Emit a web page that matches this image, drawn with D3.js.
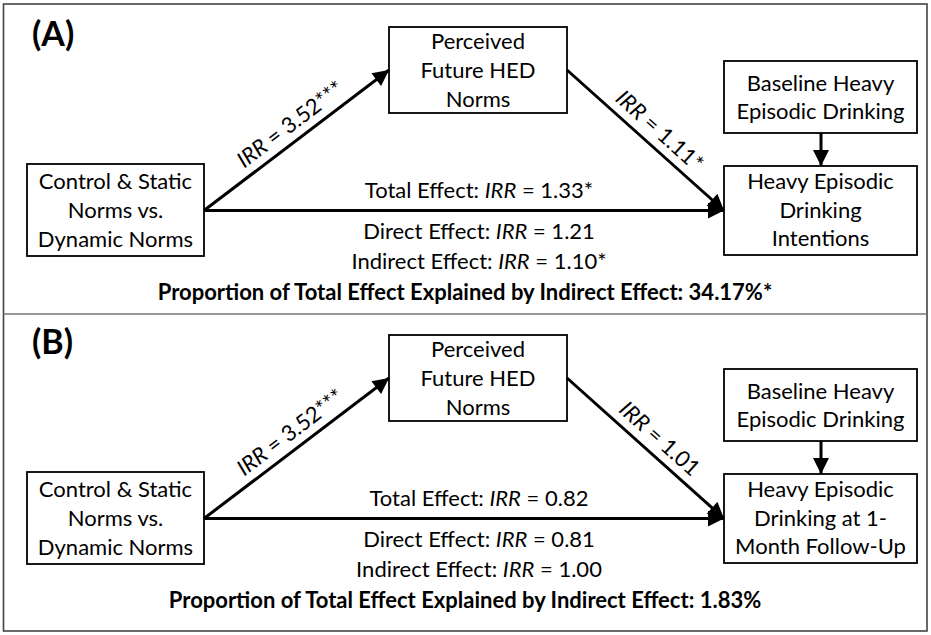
<!DOCTYPE html>
<html>
<head>
<meta charset="utf-8">
<script src="https://cdn.jsdelivr.net/npm/d3@7"></script>
<style>
  body { margin: 0; background: #fff; }
  svg text { font-family: "Lato", "Open Sans", sans-serif; fill: #000; }
</style>
</head>
<body>
<div id="chart"></div>
<script>
// panels
let panelNames = ["(A)", "(B)"];

// node labels (same in both panels except the outcome)
let predictorLines = ["Control & Static", "Norms vs.", "Dynamic Norms"];
let mediatorLines = ["Perceived", "Future HED", "Norms"];
let covariateLines = ["Baseline Heavy", "Episodic Drinking"];
let outcomeLines = [
  ["Heavy Episodic", "Drinking", "Intentions"],
  ["Heavy Episodic", "Drinking at 1-", "Month Follow-Up"]
];

// path estimates
let pathA = ["3.52***", "3.52***"];
let pathB = ["1.11*", "1.01"];
let totalIRR = ["1.33*", "0.82"];
let directIRR = ["1.21", "0.81"];
let indirectIRR = ["1.10*", "1.00"];
let proportion = ["34.17%*", "1.83%"];

let svgWidth = 931;
let svgHeight = 635;

let svg = d3.select("#chart")
  .append("svg")
  .attr("width", svgWidth)
  .attr("height", svgHeight);

// layout units are pixels inside one panel; y scale shifts per panel
let x = d3.scaleLinear().domain([0, 931]).range([0, 931]);
let panelTop = d3.scaleOrdinal().domain([0, 1]).range([0, 308]);

let defs = svg.append("defs");
defs.append("marker")
  .attr("id", "head")
  .attr("viewBox", "0 0 10 10")
  .attr("refX", 10)
  .attr("refY", 5)
  .attr("markerUnits", "userSpaceOnUse")
  .attr("markerWidth", 18)
  .attr("markerHeight", 16)
  .attr("orient", "auto")
  .append("path")
  .attr("d", "M0,0L10,5L0,10Z")
  .attr("fill", "#000");

// frame
svg.append("rect")
  .attr("x", 3.5).attr("y", 4)
  .attr("width", 923.5).attr("height", 627)
  .attr("fill", "none")
  .attr("stroke", "#444")
  .attr("stroke-width", 1.6);

svg.append("line")
  .attr("x1", 3.5).attr("x2", 927)
  .attr("y1", 314).attr("y2", 314)
  .attr("stroke", "#777")
  .attr("stroke-width", 1.6);

let boxes = {
  pred: {x0: 27, y0: 164, x1: 204, y1: 256},
  med: {x0: 389, y0: 27, x1: 567, y1: 113},
  cov: {x0: 724, y0: 61, x1: 917, y1: 133},
  out: {x0: 724, y0: 166, x1: 917, y1: 255}
};

function irrText(sel, prefix, value) {
  if (prefix) sel.append("tspan").text(prefix);
  sel.append("tspan").attr("font-style", "italic").text("IRR");
  sel.append("tspan").text(" = " + value);
}

panelNames.forEach((name, i) => {
  let y = d => panelTop(i) + d;
  let g = svg.append("g");

  g.append("text")
    .attr("x", x(32))
    .attr("y", y(46))
    .attr("font-size", "34px")
    .attr("font-weight", "bold")
    .text(name);

  let nodes = [
    {b: boxes.pred, lines: predictorLines, first: 189, step: 29},
    {b: boxes.med, lines: mediatorLines, first: 49, step: 29},
    {b: boxes.cov, lines: covariateLines, first: 91, step: 27.5},
    {b: boxes.out, lines: outcomeLines[i], first: 189, step: 28.5}
  ];

  nodes.forEach(n => {
    g.append("rect")
      .attr("x", x(n.b.x0))
      .attr("y", y(n.b.y0))
      .attr("width", x(n.b.x1) - x(n.b.x0))
      .attr("height", y(n.b.y1) - y(n.b.y0))
      .attr("fill", "#fff")
      .attr("stroke", "#000")
      .attr("stroke-width", 1.8);
    g.selectAll(null)
      .data(n.lines)
      .enter()
      .append("text")
      .attr("x", x((n.b.x0 + n.b.x1) / 2))
      .attr("y", (d, k) => y(n.first + k * n.step))
      .attr("text-anchor", "middle")
      .attr("font-size", "22px")
      .text(d => d);
  });

  // arrows
  let midY = 210.5;
  let arrows = [
    {x1: 204, y1: midY, x2: 389, y2: 70, label: pathA[i]},
    {x1: 567, y1: 70, x2: 724, y2: midY, label: pathB[i]},
    {x1: 204, y1: midY, x2: 724, y2: midY},
    {x1: 821, y1: 133, x2: 821, y2: 166}
  ];

  arrows.forEach(a => {
    g.append("line")
      .attr("x1", x(a.x1)).attr("y1", y(a.y1))
      .attr("x2", x(a.x2)).attr("y2", y(a.y2))
      .attr("stroke", "#000")
      .attr("stroke-width", 3)
      .attr("marker-end", "url(#head)");
    if (a.label) {
      let dx = a.x2 - a.x1, dy = a.y2 - a.y1;
      let ang = Math.atan2(dy, dx) * 180 / Math.PI;
      let cx = a.x1 + dx * 0.52, cy = a.y1 + dy * 0.52;
      let t = g.append("text")
        .attr("transform", `translate(${x(cx)},${y(cy)}) rotate(${ang})`)
        .attr("text-anchor", "middle")
        .attr("y", -9)
        .attr("font-size", "22px");
      irrText(t, "", a.label);
    }
  });

  // effect labels
  let eff = [
    {pre: "Total Effect: ", v: totalIRR[i], yy: 198},
    {pre: "Direct Effect: ", v: directIRR[i], yy: 239},
    {pre: "Indirect Effect: ", v: indirectIRR[i], yy: 269}
  ];
  eff.forEach(e => {
    let t = g.append("text")
      .attr("x", x(479))
      .attr("y", y(e.yy))
      .attr("text-anchor", "middle")
      .attr("font-size", "22px");
    irrText(t, e.pre, e.v);
  });

  g.append("text")
    .attr("x", x(465))
    .attr("y", y(300))
    .attr("text-anchor", "middle")
    .attr("font-size", "22px")
    .attr("font-weight", "bold")
    .text("Proportion of Total Effect Explained by Indirect Effect: " + proportion[i]);
});
</script>
</body>
</html>
